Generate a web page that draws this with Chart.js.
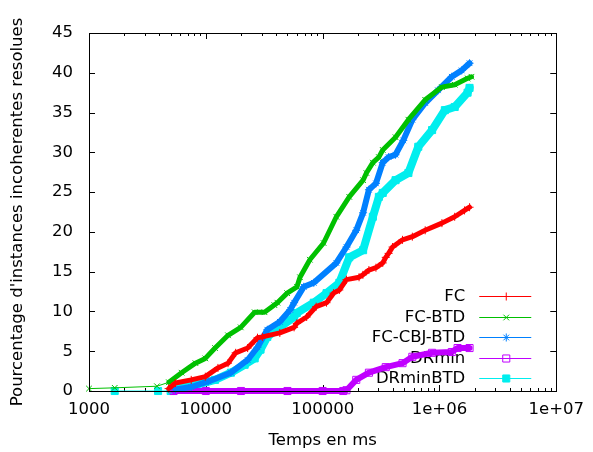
<!DOCTYPE html>
<html lang="fr">
<head>
<meta charset="UTF-8">
<title>Pourcentage d'instances incoherentes resolues</title>
<script src="https://cdn.jsdelivr.net/npm/chart.js"></script>
<style>
  html, body { margin: 0; padding: 0; background: #fff; }
  #wrap { width: 593px; height: 452px; }
</style>
</head>
<body>
<div id="wrap"><canvas id="grafico" width="593" height="452"></canvas></div>
<script>
// temps (ms) / pourcentage
const fc = [
  [4800, 0.3], [5500, 1.0], [7500, 1.4], [9900, 1.8], [12700, 2.9], [15500, 3.5],
  [18000, 4.8], [22800, 5.4], [27700, 6.7], [30500, 6.8], [43000, 7.3], [57000, 8.0],
  [60000, 8.5], [73000, 9.3], [88000, 10.6], [108000, 11.1], [124000, 12.3],
  [139000, 12.7], [160000, 14.0], [205000, 14.3], [221000, 14.6], [249000, 15.2],
  [286000, 15.5], [327000, 16.1], [347000, 16.8], [367000, 17.3], [397000, 18.1],
  [483000, 19.0], [586000, 19.4], [755000, 20.2], [1050000, 21.1], [1350000, 21.9],
  [1640000, 22.7], [1810000, 23.1]
];
const fcBtd = [
  [1000, 0.3], [1660, 0.4], [3820, 0.6], [4830, 1.1], [6200, 2.3], [8150, 3.5],
  [9900, 4.1], [12000, 5.4], [15500, 7.0], [19900, 8.0], [26200, 9.9], [31800, 9.9],
  [38600, 10.8], [41000, 11.1], [49700, 12.3], [60300, 13.1], [64000, 14.3],
  [77700, 16.5], [101900, 18.6], [131000, 21.9], [169000, 24.4], [222000, 26.5],
  [237000, 27.4], [269000, 28.7], [303000, 29.4], [327000, 30.3], [421000, 31.9],
  [542000, 34.1], [755000, 36.6], [1049000, 38.2], [1351000, 38.5], [1741000, 39.3],
  [1880000, 39.5]
];
const fcCbjBtd = [
  [5500, 0.2], [7500, 0.5], [10500, 1.2], [16400, 2.3], [22800, 3.9], [27700, 5.5],
  [33600, 7.7], [43000, 8.7], [52700, 10.2], [57000, 11.1], [69000, 13.1], [84000, 13.6],
  [131000, 16.1], [160000, 18.1], [194000, 20.2], [222000, 22.4], [249000, 25.3],
  [286000, 26.1], [327000, 28.7], [367000, 29.4], [420000, 29.7], [490000, 31.5],
  [586000, 34.1], [755000, 36.2], [971000, 37.8], [1275000, 39.5], [1550000, 40.3],
  [1810000, 41.2]
];
const drMin = [
  [5300, 0], [10000, 0], [20000, 0], [50000, 0], [100000, 0], [150000, 0],
  [160000, 0.1], [194000, 1.4], [249000, 2.3], [347000, 3.0], [483000, 3.5],
  [586000, 4.3], [865000, 4.8], [1275000, 4.9], [1430000, 5.4], [1810000, 5.4]
];
const drMinBtd = [
  [1660, 0], [3900, 0], [5000, 0], [6200, 0.5], [8000, 0.7], [12000, 1.4],
  [16400, 2.3], [21500, 3.3], [26200, 4.1], [29400, 5.2], [33600, 6.8], [43000, 8.0],
  [57000, 9.3], [60000, 9.8], [84000, 11.1], [108000, 12.3], [139000, 13.6],
  [169000, 16.8], [222000, 17.7], [269000, 21.9], [303000, 24.4], [327000, 24.9],
  [421000, 26.5], [542000, 27.4], [659000, 30.7], [865000, 32.8], [1112000, 35.3],
  [1351000, 35.7], [1741000, 37.5], [1810000, 38.1]
];

const noms = ['FC', 'FC-BTD', 'FC-CBJ-BTD', 'DRmin', 'DRminBTD'];
const series = [fc, fcBtd, fcCbjBtd, drMin, drMinBtd];
const couleurs = ['#ff0000', '#00c000', '#0080ff', '#c000ff', '#00eeee'];
const symboles = ['cross', 'crossRot', 'star', 'rect', 'rect'];
const remplis = [false, false, false, false, true];
const epaisseurs = [5, 5, 6, 6, 8];

const xTicksMajeurs = [1000, 10000, 100000, 1000000, 10000000];
const xLabels = ['1000', '10000', '100000', '1e+06', '1e+07'];

const police = '"DejaVu Sans", sans-serif';

const datasets = series.map((s, i) => ({
  label: noms[i],
  data: s.map(p => ({ x: p[0], y: p[1] })),
  showLine: true,
  borderColor: couleurs[i],
  backgroundColor: remplis[i] ? couleurs[i] : 'rgba(0,0,0,0)',
  borderWidth: epaisseurs[i],
  borderJoinStyle: 'round',
  borderCapStyle: 'round',
  // avant ~4500 ms les points sont isolés : trait fin
  segment: { borderWidth: ctx => ctx.p0.parsed.x < 4500 ? 1 : epaisseurs[i] },
  pointStyle: symboles[i],
  pointRadius: symboles[i] === 'rect' ? 5 : 4,
  pointBorderWidth: 1,
  pointBorderColor: couleurs[i],
  pointBackgroundColor: remplis[i] ? couleurs[i] : 'rgba(0,0,0,0)',
  clip: false
}));

// cadre, petites graduations vers l'intérieur, légende façon gnuplot
const cadre = {
  id: 'cadre',
  beforeDatasetsDraw(chart) {
    const c = chart.ctx, a = chart.chartArea;
    const sx = chart.scales.x, sy = chart.scales.y;
    c.save();
    c.strokeStyle = '#000';
    c.lineWidth = 1;
    sx.ticks.forEach(t => {
      const px = Math.round(sx.getPixelForValue(t.value)) + 0.5;
      const maj = xTicksMajeurs.includes(t.value);
      const l = maj ? 6 : 3;
      c.beginPath();
      c.moveTo(px, a.bottom); c.lineTo(px, a.bottom - l);
      c.moveTo(px, a.top); c.lineTo(px, a.top + l);
      c.stroke();
    });
    sy.ticks.forEach(t => {
      const py = Math.round(sy.getPixelForValue(t.value)) + 0.5;
      c.beginPath();
      c.moveTo(a.left, py); c.lineTo(a.left + 6, py);
      c.moveTo(a.right, py); c.lineTo(a.right - 6, py);
      c.stroke();
    });

    // légende
    c.font = '16.5px ' + police;
    c.textAlign = 'right';
    c.textBaseline = 'middle';
    chart.data.datasets.forEach((d, i) => {
      const y = Math.round(a.bottom - 95 + i * 20.5) + 0.5;
      c.fillStyle = '#000';
      c.fillText(d.label, a.right - 91, y);
      c.strokeStyle = d.borderColor;
      c.lineWidth = 1;
      c.beginPath();
      c.moveTo(a.right - 77, y); c.lineTo(a.right - 25, y);
      c.stroke();
      c.fillStyle = d.pointBackgroundColor;
      Chart.helpers.drawPoint(c, {
        pointStyle: d.pointStyle, radius: d.pointRadius, rotation: 0, borderWidth: 1
      }, a.right - 50, y);
    });
    c.restore();
  },
  afterDatasetsDraw(chart) {
    const c = chart.ctx, a = chart.chartArea;
    c.save();
    c.strokeStyle = '#000';
    c.lineWidth = 1;
    c.strokeRect(Math.round(a.left) + 0.5, Math.round(a.top) + 0.5,
      Math.round(a.right - a.left), Math.round(a.bottom - a.top));
    c.restore();
  }
};

const grafico = new Chart(document.getElementById('grafico').getContext('2d'), {
  type: 'scatter',
  data: { datasets: datasets },
  options: {
    responsive: false,
    animation: false,
    layout: { padding: { left: 0, top: 33, right: 30, bottom: 0 } },
    plugins: { legend: { display: false }, tooltip: { enabled: false } },
    elements: { line: { tension: 0 } },
    scales: {
      x: {
        type: 'logarithmic',
        min: 1000,
        max: 10000000,
        afterFit(s) { s.height = 61; },
        afterBuildTicks(s) {
          const t = [];
          for (let d = 1000; d < 10000000; d *= 10) {
            for (let m = 1; m < 10; m++) t.push({ value: m * d });
          }
          t.push({ value: 10000000 });
          s.ticks = t;
        },
        grid: { display: false, drawTicks: false },
        border: { display: false },
        ticks: {
          autoSkip: false,
          maxRotation: 0,
          padding: 9,
          color: '#000',
          font: { family: police, size: 16.5 },
          callback(v) {
            const k = xTicksMajeurs.indexOf(v);
            return k >= 0 ? xLabels[k] : '';
          }
        },
        title: {
          display: true,
          text: 'Temps en ms',
          color: '#000',
          font: { family: police, size: 16.5 },
          padding: { top: 0, bottom: 1 }
        }
      },
      y: {
        min: 0,
        max: 45,
        afterFit(s) { s.width = 89; },
        grid: { display: false, drawTicks: false },
        border: { display: false },
        ticks: {
          stepSize: 5,
          padding: 16,
          color: '#000',
          font: { family: police, size: 16.5 }
        },
        title: {
          display: true,
          text: "Pourcentage d'instances incoherentes resolues",
          color: '#000',
          font: { family: police, size: 16.5 },
          padding: { top: 8, bottom: 0 }
        }
      }
    }
  },
  plugins: [cadre]
});
</script>
</body>
</html>
